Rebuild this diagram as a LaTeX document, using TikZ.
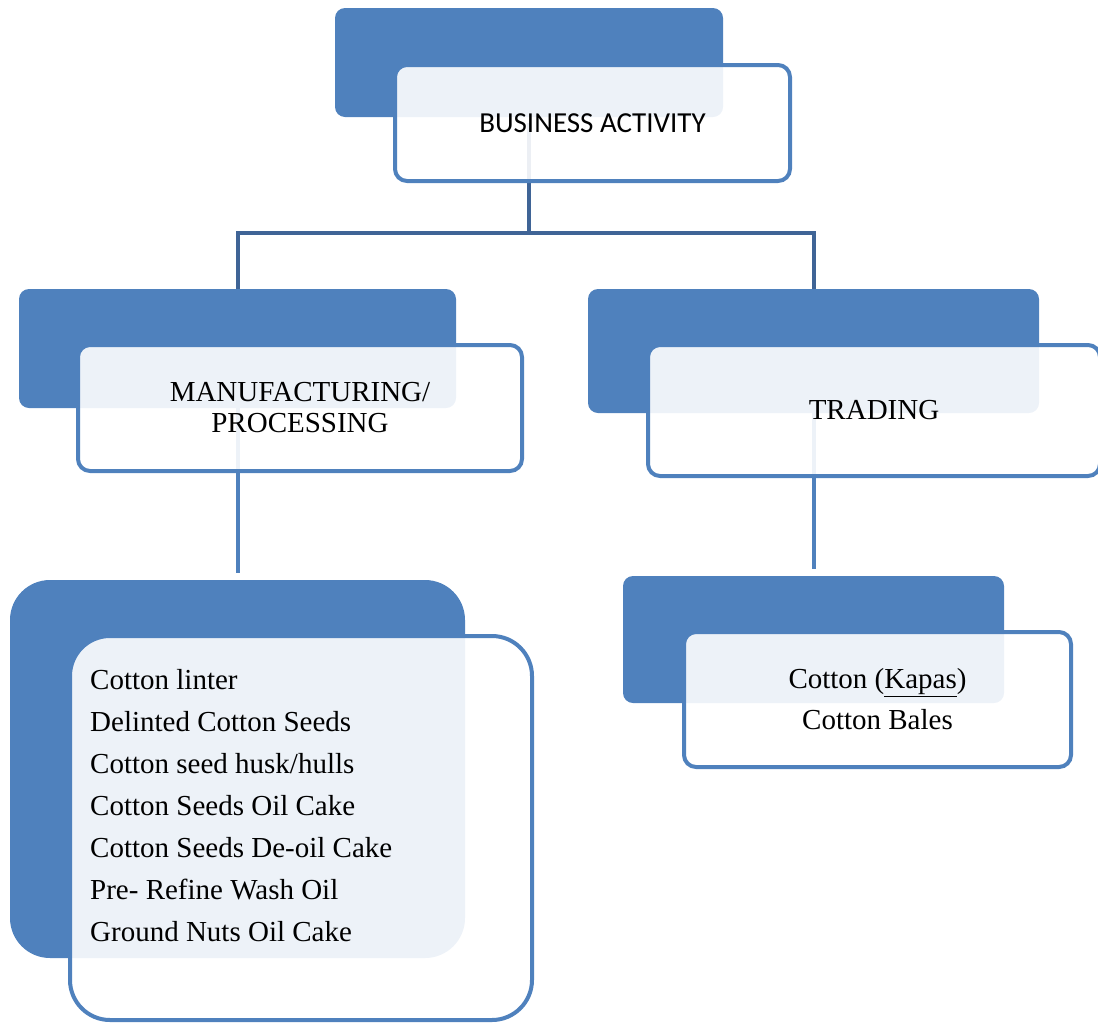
\documentclass[tikz,border=0pt]{standalone}
\usepackage{fontspec}
\setmainfont{Liberation Serif}
\newfontfamily\calibrifont{Carlito}
\usepackage{xcolor}
\usepackage{tikz}
\usetikzlibrary{positioning,calc,backgrounds}

\definecolor{officeblue}{HTML}{4F81BD}
\definecolor{linkblue}{HTML}{3F6496}

\begin{document}
\begin{tikzpicture}[
    x=1pt,y=-1pt,
    backbox/.style={
        fill=officeblue,
        draw=none,
        rounded corners=10pt,
        inner sep=0pt
    },
    frontbox/.style={
        fill=white, fill opacity=0.9, text opacity=1,
        draw=officeblue,
        line width=4pt,
        rounded corners=12pt,
        inner sep=0pt,
        align=center,
        font=\fontsize{29}{31}\selectfont
    },
    link/.style={draw=linkblue, line width=4pt},
    sublink/.style={draw=officeblue, line width=4pt, shorten >=7pt},
    itemlist/.style={font=\fontsize{29}{42}\selectfont, align=left, inner sep=0pt}
]

% ===== page frame =====
\useasboundingbox (0,0) rectangle (1098,1023);

% ===== top level =====
\node[backbox, minimum width=388, minimum height=109] (bizD) at (529,62.5) {};
\node[frontbox, minimum width=395, minimum height=116,
      font=\calibrifont\fontsize{29}{31}\selectfont] (bizF) at (592.5,123) {BUSINESS ACTIVITY};

% ===== second level =====
\node[backbox, minimum width=437, minimum height=119] (mfgD) at (237.5,348.5) {};
\node[frontbox, minimum width=444, minimum height=126] (mfgF) at (300,408)
  {MANUFACTURING/\\PROCESSING};

\node[backbox, minimum width=451, minimum height=124] (tradeD) at (813.5,351) {};
\node[frontbox, minimum width=452, minimum height=131] (tradeF) at (874,410.5) {TRADING};

% ===== third level =====
\node[backbox, rounded corners=40pt, minimum width=455, minimum height=378] (itemsD) at (237.5,769) {};
\node[frontbox, rounded corners=40pt, minimum width=462, minimum height=384] (itemsF) at (301,828) {};
\node[itemlist, anchor=north west] (itemsT) at (90,669)
  {Cotton linter\\
   Delinted Cotton Seeds\\
   Cotton seed husk/hulls\\
   Cotton Seeds Oil Cake\\
   Cotton Seeds De-oil Cake\\
   Pre- Refine Wash Oil\\
   Ground Nuts Oil Cake};

\node[backbox, minimum width=381, minimum height=127] (goodsD) at (813.5,639.5) {};
\node[frontbox, minimum width=387, minimum height=135,
      font=\fontsize{29}{41}\selectfont] (goodsF) at (877.5,699.5)
  {Cotton (\underline{Kapas})\\Cotton Bales};

% ===== connectors =====
\coordinate (forkY) at (0,233);
\begin{pgfonlayer}{background}
  \draw[link] (bizD.center |- bizF.center) -- (bizD.center |- forkY) -| (mfgD.north);
  \draw[link] (bizD.center |- forkY) -| (tradeD.north);
  \draw[sublink] (mfgD.center |- mfgF.center) -- (itemsD.north);
  \draw[sublink] (tradeD.center |- tradeF.center) -- (goodsD.north);
\end{pgfonlayer}
\end{tikzpicture}
\end{document}
